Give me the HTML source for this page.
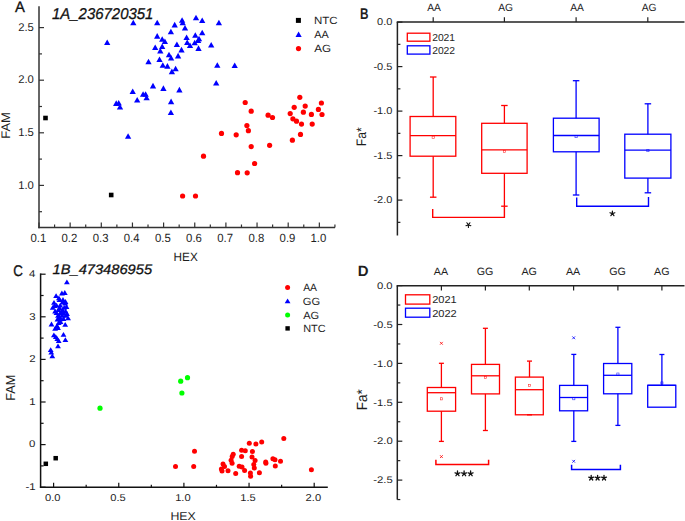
<!DOCTYPE html>
<html><head><meta charset="utf-8"><style>
html,body{margin:0;padding:0;background:#fff;}
body{width:685px;height:521px;overflow:hidden;}
svg{display:block;font-family:"Liberation Sans", sans-serif;text-rendering:geometricPrecision;}
</style></head><body>
<svg width="685" height="521" viewBox="0 0 685 521">
<rect width="685" height="521" fill="#fff"/>
<line x1="39" y1="6.3" x2="39" y2="228.2" stroke="#333" stroke-width="1.5"/>
<line x1="38.3" y1="227.5" x2="335" y2="227.5" stroke="#333" stroke-width="1.5"/>
<line x1="39" y1="227.5" x2="39" y2="222.5" stroke="#333" stroke-width="1.2"/>
<line x1="54.58" y1="227.5" x2="54.58" y2="224.5" stroke="#333" stroke-width="1.2"/>
<line x1="70.15" y1="227.5" x2="70.15" y2="222.5" stroke="#333" stroke-width="1.2"/>
<line x1="85.72" y1="227.5" x2="85.72" y2="224.5" stroke="#333" stroke-width="1.2"/>
<line x1="101.3" y1="227.5" x2="101.3" y2="222.5" stroke="#333" stroke-width="1.2"/>
<line x1="116.88" y1="227.5" x2="116.88" y2="224.5" stroke="#333" stroke-width="1.2"/>
<line x1="132.45" y1="227.5" x2="132.45" y2="222.5" stroke="#333" stroke-width="1.2"/>
<line x1="148.02" y1="227.5" x2="148.02" y2="224.5" stroke="#333" stroke-width="1.2"/>
<line x1="163.6" y1="227.5" x2="163.6" y2="222.5" stroke="#333" stroke-width="1.2"/>
<line x1="179.17" y1="227.5" x2="179.17" y2="224.5" stroke="#333" stroke-width="1.2"/>
<line x1="194.75" y1="227.5" x2="194.75" y2="222.5" stroke="#333" stroke-width="1.2"/>
<line x1="210.32" y1="227.5" x2="210.32" y2="224.5" stroke="#333" stroke-width="1.2"/>
<line x1="225.9" y1="227.5" x2="225.9" y2="222.5" stroke="#333" stroke-width="1.2"/>
<line x1="241.47" y1="227.5" x2="241.47" y2="224.5" stroke="#333" stroke-width="1.2"/>
<line x1="257.05" y1="227.5" x2="257.05" y2="222.5" stroke="#333" stroke-width="1.2"/>
<line x1="272.62" y1="227.5" x2="272.62" y2="224.5" stroke="#333" stroke-width="1.2"/>
<line x1="288.2" y1="227.5" x2="288.2" y2="222.5" stroke="#333" stroke-width="1.2"/>
<line x1="303.77" y1="227.5" x2="303.77" y2="224.5" stroke="#333" stroke-width="1.2"/>
<line x1="319.35" y1="227.5" x2="319.35" y2="222.5" stroke="#333" stroke-width="1.2"/>
<line x1="334.93" y1="227.5" x2="334.93" y2="224.5" stroke="#333" stroke-width="1.2"/>
<text transform="translate(30.4,241.6) scale(0.9593,1)" font-size="11.857" font-weight="normal" fill="#1e1e1e">0.1</text>
<text transform="translate(61.55,241.6) scale(0.9593,1)" font-size="11.857" font-weight="normal" fill="#1e1e1e">0.2</text>
<text transform="translate(92.67,241.6) scale(0.9593,1)" font-size="11.857" font-weight="normal" fill="#1e1e1e">0.3</text>
<text transform="translate(123.74,241.6) scale(0.9593,1)" font-size="11.857" font-weight="normal" fill="#1e1e1e">0.4</text>
<text transform="translate(154.95,241.6) scale(0.9593,1)" font-size="11.857" font-weight="normal" fill="#1e1e1e">0.5</text>
<text transform="translate(186.12,241.6) scale(0.9593,1)" font-size="11.857" font-weight="normal" fill="#1e1e1e">0.6</text>
<text transform="translate(217.3,241.6) scale(0.9593,1)" font-size="11.857" font-weight="normal" fill="#1e1e1e">0.7</text>
<text transform="translate(248.4,241.6) scale(0.9593,1)" font-size="11.857" font-weight="normal" fill="#1e1e1e">0.8</text>
<text transform="translate(279.57,241.6) scale(0.9593,1)" font-size="11.857" font-weight="normal" fill="#1e1e1e">0.9</text>
<text transform="translate(310.5,241.6) scale(0.9593,1)" font-size="11.857" font-weight="normal" fill="#1e1e1e">1.0</text>
<line x1="39" y1="211.7" x2="42" y2="211.7" stroke="#333" stroke-width="1.2"/>
<line x1="39" y1="185.4" x2="44" y2="185.4" stroke="#333" stroke-width="1.2"/>
<line x1="39" y1="159.1" x2="42" y2="159.1" stroke="#333" stroke-width="1.2"/>
<line x1="39" y1="132.8" x2="44" y2="132.8" stroke="#333" stroke-width="1.2"/>
<line x1="39" y1="106.5" x2="42" y2="106.5" stroke="#333" stroke-width="1.2"/>
<line x1="39" y1="80.2" x2="44" y2="80.2" stroke="#333" stroke-width="1.2"/>
<line x1="39" y1="53.9" x2="42" y2="53.9" stroke="#333" stroke-width="1.2"/>
<line x1="39" y1="27.6" x2="44" y2="27.6" stroke="#333" stroke-width="1.2"/>
<text transform="translate(18.18,188.6) scale(1.0019,1)" font-size="11.286" font-weight="normal" fill="#1e1e1e">1.0</text>
<text transform="translate(18.18,136) scale(1.0019,1)" font-size="11.286" font-weight="normal" fill="#1e1e1e">1.5</text>
<text transform="translate(18.18,83.4) scale(1.0019,1)" font-size="11.286" font-weight="normal" fill="#1e1e1e">2.0</text>
<text transform="translate(18.18,30.8) scale(1.0019,1)" font-size="11.286" font-weight="normal" fill="#1e1e1e">2.5</text>
<text transform="translate(15.03,11.7) scale(0.9758,1)" font-size="15.217" font-weight="normal" font-style="normal" fill="#111" stroke="#111" stroke-width="0.3">A</text>
<text transform="translate(52.03,18.9) scale(0.9514,1)" font-size="15.714" font-weight="normal" font-style="italic" fill="#111" stroke="#111" stroke-width="0.3">1A_236720351</text>
<text transform="translate(173.56,261) scale(0.9900,1)" font-size="11.884" font-weight="normal" font-style="normal" fill="#1e1e1e" >HEX</text>
<text transform="translate(10,138.74) rotate(-90) scale(1.0415,1)" font-size="12.464" font-weight="normal" font-style="normal" fill="#1e1e1e">FAM</text>
<rect x="295.9" y="17.9" width="5" height="5" fill="#000"/>
<text transform="translate(313.98,24) scale(1.1044,1)" font-size="10.435" font-weight="normal" font-style="normal" fill="#1e1e1e">NTC</text>
<polygon points="295.5,37 301.7,37 298.6,31.4" fill="#0000ff"/>
<text transform="translate(314.35,37.8) scale(1.0415,1)" font-size="10.435" font-weight="normal" font-style="normal" fill="#1e1e1e">AA</text>
<circle cx="298.5" cy="48.6" r="2.6" fill="#ff0000"/>
<text transform="translate(314.34,51.7) scale(1.1163,1)" font-size="10.435" font-weight="normal" font-style="normal" fill="#1e1e1e">AG</text>
<polygon points="104.05,45 110.35,45 107.2,39.4" fill="#0000ff"/>
<polygon points="124.95,138.8 131.25,138.8 128.1,133.2" fill="#0000ff"/>
<polygon points="130.15,25.3 136.45,25.3 133.3,19.7" fill="#0000ff"/>
<polygon points="154.05,25.3 160.35,25.3 157.2,19.7" fill="#0000ff"/>
<polygon points="167.75,34.3 174.05,34.3 170.9,28.7" fill="#0000ff"/>
<polygon points="154.05,38.7 160.35,38.7 157.2,33.1" fill="#0000ff"/>
<polygon points="159.05,41.8 165.35,41.8 162.2,36.2" fill="#0000ff"/>
<polygon points="161.75,44 168.05,44 164.9,38.4" fill="#0000ff"/>
<polygon points="152.05,50 158.35,50 155.2,44.4" fill="#0000ff"/>
<polygon points="159.05,49 165.35,49 162.2,43.4" fill="#0000ff"/>
<polygon points="157.15,53.4 163.45,53.4 160.3,47.8" fill="#0000ff"/>
<polygon points="165.85,57.3 172.15,57.3 169,51.7" fill="#0000ff"/>
<polygon points="167.95,60.6 174.25,60.6 171.1,55" fill="#0000ff"/>
<polygon points="156.35,62.1 162.65,62.1 159.5,56.5" fill="#0000ff"/>
<polygon points="145.35,64.3 151.65,64.3 148.5,58.7" fill="#0000ff"/>
<polygon points="159.65,67.8 165.95,67.8 162.8,62.2" fill="#0000ff"/>
<polygon points="164.25,68.7 170.55,68.7 167.4,63.1" fill="#0000ff"/>
<polygon points="171.55,27.4 177.85,27.4 174.7,21.8" fill="#0000ff"/>
<polygon points="178.95,22.8 185.25,22.8 182.1,17.2" fill="#0000ff"/>
<polygon points="179.55,25.3 185.85,25.3 182.7,19.7" fill="#0000ff"/>
<polygon points="192.85,20.3 199.15,20.3 196,14.7" fill="#0000ff"/>
<polygon points="199.05,23 205.35,23 202.2,17.4" fill="#0000ff"/>
<polygon points="215.75,25.3 222.05,25.3 218.9,19.7" fill="#0000ff"/>
<polygon points="181.85,30.6 188.15,30.6 185,25" fill="#0000ff"/>
<polygon points="199.05,35.3 205.35,35.3 202.2,29.7" fill="#0000ff"/>
<polygon points="192.15,37.8 198.45,37.8 195.3,32.2" fill="#0000ff"/>
<polygon points="183.45,40 189.75,40 186.6,34.4" fill="#0000ff"/>
<polygon points="195.85,41.3 202.15,41.3 199,35.7" fill="#0000ff"/>
<polygon points="194.95,43 201.25,43 198.1,37.4" fill="#0000ff"/>
<polygon points="173.75,47.1 180.05,47.1 176.9,41.5" fill="#0000ff"/>
<polygon points="184.05,45 190.35,45 187.2,39.4" fill="#0000ff"/>
<polygon points="186.85,48 193.15,48 190,42.4" fill="#0000ff"/>
<polygon points="191.55,45.3 197.85,45.3 194.7,39.7" fill="#0000ff"/>
<polygon points="195.35,50.9 201.65,50.9 198.5,45.3" fill="#0000ff"/>
<polygon points="208.05,47.5 214.35,47.5 211.2,41.9" fill="#0000ff"/>
<polygon points="178.35,52.4 184.65,52.4 181.5,46.8" fill="#0000ff"/>
<polygon points="174.95,58.4 181.25,58.4 178.1,52.8" fill="#0000ff"/>
<polygon points="172.45,71.3 178.75,71.3 175.6,65.7" fill="#0000ff"/>
<polygon points="214.15,67.8 220.45,67.8 217.3,62.2" fill="#0000ff"/>
<polygon points="231.55,68 237.85,68 234.7,62.4" fill="#0000ff"/>
<polygon points="168.75,74.2 175.05,74.2 171.9,68.6" fill="#0000ff"/>
<polygon points="149.85,88.4 156.15,88.4 153,82.8" fill="#0000ff"/>
<polygon points="160.25,90.9 166.55,90.9 163.4,85.3" fill="#0000ff"/>
<polygon points="129.55,94 135.85,94 132.7,88.4" fill="#0000ff"/>
<polygon points="139.95,96.8 146.25,96.8 143.1,91.2" fill="#0000ff"/>
<polygon points="142.45,96.8 148.75,96.8 145.6,91.2" fill="#0000ff"/>
<polygon points="143.45,100.3 149.75,100.3 146.6,94.7" fill="#0000ff"/>
<polygon points="134.05,102.5 140.35,102.5 137.2,96.9" fill="#0000ff"/>
<polygon points="113.05,105.9 119.35,105.9 116.2,100.3" fill="#0000ff"/>
<polygon points="115.55,105.5 121.85,105.5 118.7,99.9" fill="#0000ff"/>
<polygon points="116.85,109.6 123.15,109.6 120,104" fill="#0000ff"/>
<polygon points="167.95,104.2 174.25,104.2 171.1,98.6" fill="#0000ff"/>
<polygon points="167.75,115 174.05,115 170.9,109.4" fill="#0000ff"/>
<polygon points="213.05,85.5 219.35,85.5 216.2,79.9" fill="#0000ff"/>
<polygon points="176.25,92.4 182.55,92.4 179.4,86.8" fill="#0000ff"/>
<circle cx="182.6" cy="196" r="2.6" fill="#ff0000"/>
<circle cx="195.5" cy="196" r="2.6" fill="#ff0000"/>
<circle cx="203.5" cy="156.2" r="2.6" fill="#ff0000"/>
<circle cx="221.5" cy="133.4" r="2.6" fill="#ff0000"/>
<circle cx="236.2" cy="134.8" r="2.6" fill="#ff0000"/>
<circle cx="237.5" cy="172.7" r="2.6" fill="#ff0000"/>
<circle cx="247.2" cy="172.8" r="2.6" fill="#ff0000"/>
<circle cx="254.6" cy="163.5" r="2.6" fill="#ff0000"/>
<circle cx="245.2" cy="102.5" r="2.6" fill="#ff0000"/>
<circle cx="251.2" cy="111.2" r="2.6" fill="#ff0000"/>
<circle cx="246.9" cy="125.6" r="2.6" fill="#ff0000"/>
<circle cx="248.4" cy="130.7" r="2.6" fill="#ff0000"/>
<circle cx="251.2" cy="146.6" r="2.6" fill="#ff0000"/>
<circle cx="268.1" cy="115.2" r="2.6" fill="#ff0000"/>
<circle cx="272.5" cy="117.5" r="2.6" fill="#ff0000"/>
<circle cx="269.6" cy="145.3" r="2.6" fill="#ff0000"/>
<circle cx="299.8" cy="97.3" r="2.6" fill="#ff0000"/>
<circle cx="294.2" cy="107.3" r="2.6" fill="#ff0000"/>
<circle cx="305.2" cy="106.1" r="2.6" fill="#ff0000"/>
<circle cx="290.2" cy="113.6" r="2.6" fill="#ff0000"/>
<circle cx="303.4" cy="112.2" r="2.6" fill="#ff0000"/>
<circle cx="311.4" cy="114.4" r="2.6" fill="#ff0000"/>
<circle cx="321.4" cy="103" r="2.6" fill="#ff0000"/>
<circle cx="318.4" cy="109.4" r="2.6" fill="#ff0000"/>
<circle cx="322" cy="114.5" r="2.6" fill="#ff0000"/>
<circle cx="292.9" cy="118.8" r="2.6" fill="#ff0000"/>
<circle cx="296.5" cy="121.2" r="2.6" fill="#ff0000"/>
<circle cx="301.5" cy="124.1" r="2.6" fill="#ff0000"/>
<circle cx="312.2" cy="124.1" r="2.6" fill="#ff0000"/>
<circle cx="300.5" cy="134.4" r="2.6" fill="#ff0000"/>
<circle cx="292.4" cy="140.2" r="2.6" fill="#ff0000"/>
<rect x="43.2" y="115.7" width="4.6" height="4.6" fill="#000"/>
<rect x="108.9" y="192.7" width="4.6" height="4.6" fill="#000"/>
<line x1="397.4" y1="22" x2="397.4" y2="235.5" stroke="#222" stroke-width="1.5"/>
<line x1="396.7" y1="22" x2="684.5" y2="22" stroke="#222" stroke-width="1.5"/>
<line x1="397.4" y1="22.1" x2="402.4" y2="22.1" stroke="#222" stroke-width="1.2"/>
<line x1="397.4" y1="44.35" x2="400.4" y2="44.35" stroke="#222" stroke-width="1.2"/>
<line x1="397.4" y1="66.6" x2="402.4" y2="66.6" stroke="#222" stroke-width="1.2"/>
<line x1="397.4" y1="88.85" x2="400.4" y2="88.85" stroke="#222" stroke-width="1.2"/>
<line x1="397.4" y1="111.1" x2="402.4" y2="111.1" stroke="#222" stroke-width="1.2"/>
<line x1="397.4" y1="133.35" x2="400.4" y2="133.35" stroke="#222" stroke-width="1.2"/>
<line x1="397.4" y1="155.6" x2="402.4" y2="155.6" stroke="#222" stroke-width="1.2"/>
<line x1="397.4" y1="177.85" x2="400.4" y2="177.85" stroke="#222" stroke-width="1.2"/>
<line x1="397.4" y1="200.1" x2="402.4" y2="200.1" stroke="#222" stroke-width="1.2"/>
<line x1="397.4" y1="222.35" x2="400.4" y2="222.35" stroke="#222" stroke-width="1.2"/>
<text transform="translate(377.06,25.15) scale(1.0992,1)" font-size="10.000" font-weight="normal" fill="#1e1e1e">0.0</text>
<text transform="translate(373.43,69.65) scale(1.0992,1)" font-size="10.000" font-weight="normal" fill="#1e1e1e">-0.5</text>
<text transform="translate(373.43,114.15) scale(1.0992,1)" font-size="10.000" font-weight="normal" fill="#1e1e1e">-1.0</text>
<text transform="translate(373.43,158.65) scale(1.0992,1)" font-size="10.000" font-weight="normal" fill="#1e1e1e">-1.5</text>
<text transform="translate(373.43,203.15) scale(1.0992,1)" font-size="10.000" font-weight="normal" fill="#1e1e1e">-2.0</text>
<line x1="433.2" y1="22" x2="433.2" y2="17.3" stroke="#222" stroke-width="1.2"/>
<text transform="translate(427.25,10.7) scale(0.9836,1)" font-size="10.435" font-weight="normal" fill="#1e1e1e">AA</text>
<line x1="504.4" y1="22" x2="504.4" y2="17.3" stroke="#222" stroke-width="1.2"/>
<text transform="translate(498.24,10.7) scale(0.9836,1)" font-size="10.435" font-weight="normal" fill="#1e1e1e">AG</text>
<line x1="576.1" y1="22" x2="576.1" y2="17.3" stroke="#222" stroke-width="1.2"/>
<text transform="translate(570.15,10.7) scale(0.9836,1)" font-size="10.435" font-weight="normal" fill="#1e1e1e">AA</text>
<line x1="647.8" y1="22" x2="647.8" y2="17.3" stroke="#222" stroke-width="1.2"/>
<text transform="translate(641.64,10.7) scale(0.9836,1)" font-size="10.435" font-weight="normal" fill="#1e1e1e">AG</text>
<text transform="translate(360.03,18.7) scale(0.7541,1)" font-size="15.652" font-weight="bold" font-style="normal" fill="#1e1e1e" >B</text>
<text transform="translate(366.1,146.27) rotate(-90) scale(0.8836,1)" font-size="13.768" font-weight="normal" font-style="normal" fill="#1e1e1e">Fa*</text>
<rect x="407.3" y="33.2" width="22.6" height="8" fill="none" stroke="#ff0000" stroke-width="1.3"/>
<rect x="407.3" y="45.8" width="22.6" height="8.3" fill="none" stroke="#0000ff" stroke-width="1.3"/>
<text transform="translate(432.18,40.7) scale(1.0161,1)" font-size="10.143" font-weight="normal" font-style="normal" fill="#1e1e1e" >2021</text>
<text transform="translate(432.18,53.6) scale(1.0161,1)" font-size="10.143" font-weight="normal" fill="#1e1e1e">2022</text>
<rect x="410.1" y="116.5" width="45.7" height="39.7" fill="none" stroke="#ff0000" stroke-width="1.3"/>
<line x1="410.1" y1="135.7" x2="455.8" y2="135.7" stroke="#ff0000" stroke-width="1.3"/>
<line x1="433.2" y1="77" x2="433.2" y2="116.5" stroke="#ff0000" stroke-width="1.3"/>
<line x1="429.95" y1="77" x2="436.45" y2="77" stroke="#ff0000" stroke-width="1.3"/>
<line x1="433.2" y1="156.2" x2="433.2" y2="197.2" stroke="#ff0000" stroke-width="1.3"/>
<line x1="429.95" y1="197.2" x2="436.45" y2="197.2" stroke="#ff0000" stroke-width="1.3"/>
<rect x="432.1" y="136.1" width="2.2" height="2.2" fill="none" stroke="#ff0000" stroke-width="0.6" opacity="0.8"/>
<rect x="481.7" y="123.3" width="45.4" height="50" fill="none" stroke="#ff0000" stroke-width="1.3"/>
<line x1="481.7" y1="149.8" x2="527.1" y2="149.8" stroke="#ff0000" stroke-width="1.3"/>
<line x1="504.4" y1="105.5" x2="504.4" y2="123.3" stroke="#ff0000" stroke-width="1.3"/>
<line x1="501.15" y1="105.5" x2="507.65" y2="105.5" stroke="#ff0000" stroke-width="1.3"/>
<line x1="504.4" y1="173.3" x2="504.4" y2="206.2" stroke="#ff0000" stroke-width="1.3"/>
<line x1="501.15" y1="206.2" x2="507.65" y2="206.2" stroke="#ff0000" stroke-width="1.3"/>
<rect x="503.3" y="150.3" width="2.2" height="2.2" fill="none" stroke="#ff0000" stroke-width="0.6" opacity="0.8"/>
<rect x="553.4" y="118.2" width="45.7" height="33.6" fill="none" stroke="#0000ff" stroke-width="1.3"/>
<line x1="553.4" y1="135.5" x2="599.1" y2="135.5" stroke="#0000ff" stroke-width="1.3"/>
<line x1="576.1" y1="80.7" x2="576.1" y2="118.2" stroke="#0000ff" stroke-width="1.3"/>
<line x1="572.85" y1="80.7" x2="579.35" y2="80.7" stroke="#0000ff" stroke-width="1.3"/>
<line x1="576.1" y1="151.8" x2="576.1" y2="195" stroke="#0000ff" stroke-width="1.3"/>
<line x1="572.85" y1="195" x2="579.35" y2="195" stroke="#0000ff" stroke-width="1.3"/>
<rect x="575" y="135.5" width="2.2" height="2.2" fill="none" stroke="#0000ff" stroke-width="0.6" opacity="0.8"/>
<rect x="624.8" y="134.2" width="46.1" height="43.9" fill="none" stroke="#0000ff" stroke-width="1.3"/>
<line x1="624.8" y1="150.1" x2="670.9" y2="150.1" stroke="#0000ff" stroke-width="1.3"/>
<line x1="647.9" y1="103.8" x2="647.9" y2="134.2" stroke="#0000ff" stroke-width="1.3"/>
<line x1="644.65" y1="103.8" x2="651.15" y2="103.8" stroke="#0000ff" stroke-width="1.3"/>
<line x1="647.9" y1="178.1" x2="647.9" y2="192.8" stroke="#0000ff" stroke-width="1.3"/>
<line x1="644.65" y1="192.8" x2="651.15" y2="192.8" stroke="#0000ff" stroke-width="1.3"/>
<rect x="646.8" y="149.5" width="2.2" height="2.2" fill="none" stroke="#0000ff" stroke-width="0.6" opacity="0.8"/>
<polyline points="432.7,209 432.7,217.4 504.4,217.4 504.4,206.2" fill="none" stroke="#ff0000" stroke-width="1.4"/>
<polyline points="576.7,197.4 576.7,206.2 648.5,206.2 648.5,197" fill="none" stroke="#0000ff" stroke-width="1.4"/>
<path d="M468.4,224.9L468.4,227.5M468.4,224.9L465.93,225.7M468.4,224.9L466.87,222.8M468.4,224.9L469.93,222.8M468.4,224.9L470.87,225.7" stroke="#111" stroke-width="1.1" stroke-linecap="round"/>
<path d="M612.4,213.6L612.4,211M612.4,213.6L614.87,212.8M612.4,213.6L613.93,215.7M612.4,213.6L610.87,215.7M612.4,213.6L609.93,212.8" stroke="#111" stroke-width="1.2" stroke-linecap="round"/>
<line x1="40.6" y1="273.4" x2="40.6" y2="487.9" stroke="#111" stroke-width="1.5"/>
<line x1="39.9" y1="487.3" x2="327.8" y2="487.3" stroke="#111" stroke-width="1.5"/>
<line x1="40.6" y1="487.2" x2="45.6" y2="487.2" stroke="#111" stroke-width="1.2"/>
<line x1="40.6" y1="465.9" x2="43.6" y2="465.9" stroke="#111" stroke-width="1.2"/>
<line x1="40.6" y1="444.6" x2="45.6" y2="444.6" stroke="#111" stroke-width="1.2"/>
<line x1="40.6" y1="423.3" x2="43.6" y2="423.3" stroke="#111" stroke-width="1.2"/>
<line x1="40.6" y1="402" x2="45.6" y2="402" stroke="#111" stroke-width="1.2"/>
<line x1="40.6" y1="380.7" x2="43.6" y2="380.7" stroke="#111" stroke-width="1.2"/>
<line x1="40.6" y1="359.4" x2="45.6" y2="359.4" stroke="#111" stroke-width="1.2"/>
<line x1="40.6" y1="338.1" x2="43.6" y2="338.1" stroke="#111" stroke-width="1.2"/>
<line x1="40.6" y1="316.8" x2="45.6" y2="316.8" stroke="#111" stroke-width="1.2"/>
<line x1="40.6" y1="295.5" x2="43.6" y2="295.5" stroke="#111" stroke-width="1.2"/>
<line x1="40.6" y1="274.2" x2="45.6" y2="274.2" stroke="#111" stroke-width="1.2"/>
<text transform="translate(25.4,489.95) scale(1.1594,1)" font-size="9.857" font-weight="normal" fill="#1e1e1e">-1</text>
<text transform="translate(29.11,447.35) scale(1.1594,1)" font-size="9.857" font-weight="normal" fill="#1e1e1e">0</text>
<text transform="translate(29.23,404.75) scale(1.1594,1)" font-size="9.857" font-weight="normal" fill="#1e1e1e">1</text>
<text transform="translate(29.23,362.15) scale(1.1594,1)" font-size="9.857" font-weight="normal" fill="#1e1e1e">2</text>
<text transform="translate(29.17,319.55) scale(1.1594,1)" font-size="9.857" font-weight="normal" fill="#1e1e1e">3</text>
<text transform="translate(29,276.95) scale(1.1594,1)" font-size="9.857" font-weight="normal" fill="#1e1e1e">4</text>
<line x1="53.6" y1="487.3" x2="53.6" y2="482.8" stroke="#111" stroke-width="1.2"/>
<line x1="86.18" y1="487.3" x2="86.18" y2="484.8" stroke="#111" stroke-width="1.2"/>
<line x1="118.75" y1="487.3" x2="118.75" y2="482.8" stroke="#111" stroke-width="1.2"/>
<line x1="151.33" y1="487.3" x2="151.33" y2="484.8" stroke="#111" stroke-width="1.2"/>
<line x1="183.9" y1="487.3" x2="183.9" y2="482.8" stroke="#111" stroke-width="1.2"/>
<line x1="216.47" y1="487.3" x2="216.47" y2="484.8" stroke="#111" stroke-width="1.2"/>
<line x1="249.05" y1="487.3" x2="249.05" y2="482.8" stroke="#111" stroke-width="1.2"/>
<line x1="281.63" y1="487.3" x2="281.63" y2="484.8" stroke="#111" stroke-width="1.2"/>
<line x1="314.2" y1="487.3" x2="314.2" y2="482.8" stroke="#111" stroke-width="1.2"/>
<text transform="translate(45.05,500.8) scale(1.1145,1)" font-size="10.000" font-weight="normal" fill="#1e1e1e">0.0</text>
<text transform="translate(110.2,500.8) scale(1.1145,1)" font-size="10.000" font-weight="normal" fill="#1e1e1e">0.5</text>
<text transform="translate(175.16,500.8) scale(1.1145,1)" font-size="10.000" font-weight="normal" fill="#1e1e1e">1.0</text>
<text transform="translate(240.31,500.8) scale(1.1145,1)" font-size="10.000" font-weight="normal" fill="#1e1e1e">1.5</text>
<text transform="translate(305.6,500.8) scale(1.1145,1)" font-size="10.000" font-weight="normal" fill="#1e1e1e">2.0</text>
<text transform="translate(13.23,276) scale(0.8642,1)" font-size="15.429" font-weight="normal" font-style="normal" fill="#111" stroke="#111" stroke-width="0.35">C</text>
<text transform="translate(52.53,274) scale(1.0703,1)" font-size="13.714" font-weight="normal" font-style="italic" fill="#111" stroke="#111" stroke-width="0.3">1B_473486955</text>
<text transform="translate(170.41,519.5) scale(1.0767,1)" font-size="11.449" font-weight="normal" font-style="normal" fill="#1e1e1e" >HEX</text>
<text transform="translate(15.2,400.81) rotate(-90) scale(0.9710,1)" font-size="13.043" font-weight="normal" font-style="normal" fill="#1e1e1e">FAM</text>
<circle cx="287.6" cy="287.5" r="2.5" fill="#ff0000"/>
<text transform="translate(303.15,291) scale(0.9981,1)" font-size="10.435" font-weight="normal" font-style="normal" fill="#1e1e1e">AA</text>
<polygon points="284.7,303.3 290.5,303.3 287.6,298.5" fill="#0000ff"/>
<text transform="translate(302.84,304.5) scale(1.0685,1)" font-size="10.435" font-weight="normal" font-style="normal" fill="#1e1e1e">GG</text>
<circle cx="287.6" cy="315" r="2.5" fill="#00ff00"/>
<text transform="translate(303.14,318.5) scale(1.0601,1)" font-size="10.435" font-weight="normal" font-style="normal" fill="#1e1e1e">AG</text>
<rect x="285.4" y="326.2" width="4.4" height="4.4" fill="#000"/>
<text transform="translate(303.22,331.8) scale(1.0500,1)" font-size="10.435" font-weight="normal" font-style="normal" fill="#1e1e1e">NTC</text>
<polygon points="64,284.3 69.8,284.3 66.9,279.5" fill="#0000ff"/>
<polygon points="59,295.4 64.8,295.4 61.9,290.6" fill="#0000ff"/>
<polygon points="61.9,294.9 67.7,294.9 64.8,290.1" fill="#0000ff"/>
<polygon points="53.2,298 59,298 56.1,293.2" fill="#0000ff"/>
<polygon points="51.1,304.7 56.9,304.7 54,299.9" fill="#0000ff"/>
<polygon points="49.8,309.7 55.6,309.7 52.7,304.9" fill="#0000ff"/>
<polygon points="56.6,301.9 62.4,301.9 59.5,297.1" fill="#0000ff"/>
<polygon points="60.1,301.9 65.9,301.9 63,297.1" fill="#0000ff"/>
<polygon points="62.3,305.4 68.1,305.4 65.2,300.6" fill="#0000ff"/>
<polygon points="53.7,307.6 59.5,307.6 56.6,302.8" fill="#0000ff"/>
<polygon points="57.3,307.6 63.1,307.6 60.2,302.8" fill="#0000ff"/>
<polygon points="61.3,309.8 67.1,309.8 64.2,305" fill="#0000ff"/>
<polygon points="52.2,313.4 58,313.4 55.1,308.6" fill="#0000ff"/>
<polygon points="55.8,311.9 61.6,311.9 58.7,307.1" fill="#0000ff"/>
<polygon points="58.7,314.8 64.5,314.8 61.6,310" fill="#0000ff"/>
<polygon points="62.7,313.4 68.5,313.4 65.6,308.6" fill="#0000ff"/>
<polygon points="55.1,317.7 60.9,317.7 58,312.9" fill="#0000ff"/>
<polygon points="59.4,317.7 65.2,317.7 62.3,312.9" fill="#0000ff"/>
<polygon points="63,317.7 68.8,317.7 65.9,312.9" fill="#0000ff"/>
<polygon points="65.2,320.2 71,320.2 68.1,315.4" fill="#0000ff"/>
<polygon points="57.3,321.3 63.1,321.3 60.2,316.5" fill="#0000ff"/>
<polygon points="48.6,326.4 54.4,326.4 51.5,321.6" fill="#0000ff"/>
<polygon points="55.8,324.9 61.6,324.9 58.7,320.1" fill="#0000ff"/>
<polygon points="62.3,326.8 68.1,326.8 65.2,322" fill="#0000ff"/>
<polygon points="52.2,330.7 58,330.7 55.1,325.9" fill="#0000ff"/>
<polygon points="55.1,330 60.9,330 58,325.2" fill="#0000ff"/>
<polygon points="51,337.2 56.8,337.2 53.9,332.4" fill="#0000ff"/>
<polygon points="52.9,339.1 58.7,339.1 55.8,334.3" fill="#0000ff"/>
<polygon points="54.4,341 60.2,341 57.3,336.2" fill="#0000ff"/>
<polygon points="55.8,343 61.6,343 58.7,338.2" fill="#0000ff"/>
<polygon points="60.6,336.7 66.4,336.7 63.5,331.9" fill="#0000ff"/>
<polygon points="62.5,342 68.3,342 65.4,337.2" fill="#0000ff"/>
<polygon points="55.1,348.2 60.9,348.2 58,343.4" fill="#0000ff"/>
<polygon points="47.8,352.1 53.6,352.1 50.7,347.3" fill="#0000ff"/>
<polygon points="48.4,354.5 54.2,354.5 51.3,349.7" fill="#0000ff"/>
<polygon points="49.4,358.3 55.2,358.3 52.3,353.5" fill="#0000ff"/>
<polygon points="56,300.3 61.8,300.3 58.9,295.5" fill="#0000ff"/>
<polygon points="59.6,304.4 65.4,304.4 62.5,299.6" fill="#0000ff"/>
<polygon points="62.6,303.9 68.4,303.9 65.5,299.1" fill="#0000ff"/>
<polygon points="56.6,309.9 62.4,309.9 59.5,305.1" fill="#0000ff"/>
<polygon points="59.6,311.9 65.4,311.9 62.5,307.1" fill="#0000ff"/>
<polygon points="53.6,314.9 59.4,314.9 56.5,310.1" fill="#0000ff"/>
<polygon points="57.1,315.6 62.9,315.6 60,310.8" fill="#0000ff"/>
<polygon points="60.7,315.4 66.5,315.4 63.6,310.6" fill="#0000ff"/>
<polygon points="56.6,318.9 62.4,318.9 59.5,314.1" fill="#0000ff"/>
<polygon points="60.6,320.9 66.4,320.9 63.5,316.1" fill="#0000ff"/>
<polygon points="54.6,321.4 60.4,321.4 57.5,316.6" fill="#0000ff"/>
<polygon points="57.6,323.9 63.4,323.9 60.5,319.1" fill="#0000ff"/>
<polygon points="54.1,327.9 59.9,327.9 57,323.1" fill="#0000ff"/>
<polygon points="63.6,308.9 69.4,308.9 66.5,304.1" fill="#0000ff"/>
<polygon points="51.6,307.9 57.4,307.9 54.5,303.1" fill="#0000ff"/>
<polygon points="64.1,315.9 69.9,315.9 67,311.1" fill="#0000ff"/>
<circle cx="175.5" cy="466.6" r="2.5" fill="#ff0000"/>
<circle cx="193.7" cy="466.4" r="2.5" fill="#ff0000"/>
<circle cx="194.5" cy="451.3" r="2.5" fill="#ff0000"/>
<circle cx="233.2" cy="454.2" r="2.5" fill="#ff0000"/>
<circle cx="232.2" cy="456.5" r="2.5" fill="#ff0000"/>
<circle cx="231.1" cy="460.2" r="2.5" fill="#ff0000"/>
<circle cx="232.1" cy="463.2" r="2.5" fill="#ff0000"/>
<circle cx="223" cy="464.1" r="2.5" fill="#ff0000"/>
<circle cx="224.5" cy="466.6" r="2.5" fill="#ff0000"/>
<circle cx="221.4" cy="469.1" r="2.5" fill="#ff0000"/>
<circle cx="222" cy="471" r="2.5" fill="#ff0000"/>
<circle cx="228" cy="470.7" r="2.5" fill="#ff0000"/>
<circle cx="235.7" cy="473.6" r="2.5" fill="#ff0000"/>
<circle cx="241.6" cy="450.2" r="2.5" fill="#ff0000"/>
<circle cx="241.6" cy="456.4" r="2.5" fill="#ff0000"/>
<circle cx="239.2" cy="466.2" r="2.5" fill="#ff0000"/>
<circle cx="242" cy="467" r="2.5" fill="#ff0000"/>
<circle cx="244.6" cy="470.5" r="2.5" fill="#ff0000"/>
<circle cx="249.3" cy="443.2" r="2.5" fill="#ff0000"/>
<circle cx="255.9" cy="444" r="2.5" fill="#ff0000"/>
<circle cx="261.7" cy="441.9" r="2.5" fill="#ff0000"/>
<circle cx="245.3" cy="450.7" r="2.5" fill="#ff0000"/>
<circle cx="252.4" cy="451.4" r="2.5" fill="#ff0000"/>
<circle cx="252" cy="456.9" r="2.5" fill="#ff0000"/>
<circle cx="255.1" cy="460.6" r="2.5" fill="#ff0000"/>
<circle cx="265.7" cy="462" r="2.5" fill="#ff0000"/>
<circle cx="265.9" cy="463.2" r="2.5" fill="#ff0000"/>
<circle cx="272.9" cy="458.8" r="2.5" fill="#ff0000"/>
<circle cx="275" cy="459.8" r="2.5" fill="#ff0000"/>
<circle cx="280.5" cy="461.2" r="2.5" fill="#ff0000"/>
<circle cx="275.3" cy="466" r="2.5" fill="#ff0000"/>
<circle cx="253.8" cy="464.6" r="2.5" fill="#ff0000"/>
<circle cx="254.3" cy="468.1" r="2.5" fill="#ff0000"/>
<circle cx="250.4" cy="473" r="2.5" fill="#ff0000"/>
<circle cx="250.6" cy="476.2" r="2.5" fill="#ff0000"/>
<circle cx="259.4" cy="472.8" r="2.5" fill="#ff0000"/>
<circle cx="283.8" cy="438.5" r="2.5" fill="#ff0000"/>
<circle cx="311.4" cy="469.8" r="2.5" fill="#ff0000"/>
<circle cx="100" cy="408.2" r="2.6" fill="#00ff00"/>
<circle cx="180.7" cy="381.2" r="2.6" fill="#00ff00"/>
<circle cx="187.5" cy="377.7" r="2.6" fill="#00ff00"/>
<circle cx="181.9" cy="393" r="2.6" fill="#00ff00"/>
<rect x="43.55" y="461.55" width="4.5" height="4.5" fill="#000"/>
<rect x="53.45" y="455.95" width="4.5" height="4.5" fill="#000"/>
<line x1="397.3" y1="285.7" x2="397.3" y2="499.6" stroke="#222" stroke-width="1.5"/>
<line x1="396.6" y1="285.7" x2="684.5" y2="285.7" stroke="#222" stroke-width="1.5"/>
<line x1="397.3" y1="285.6" x2="402.3" y2="285.6" stroke="#222" stroke-width="1.2"/>
<line x1="397.3" y1="305.05" x2="400.3" y2="305.05" stroke="#222" stroke-width="1.2"/>
<line x1="397.3" y1="324.5" x2="402.3" y2="324.5" stroke="#222" stroke-width="1.2"/>
<line x1="397.3" y1="343.95" x2="400.3" y2="343.95" stroke="#222" stroke-width="1.2"/>
<line x1="397.3" y1="363.4" x2="402.3" y2="363.4" stroke="#222" stroke-width="1.2"/>
<line x1="397.3" y1="382.85" x2="400.3" y2="382.85" stroke="#222" stroke-width="1.2"/>
<line x1="397.3" y1="402.3" x2="402.3" y2="402.3" stroke="#222" stroke-width="1.2"/>
<line x1="397.3" y1="421.75" x2="400.3" y2="421.75" stroke="#222" stroke-width="1.2"/>
<line x1="397.3" y1="441.2" x2="402.3" y2="441.2" stroke="#222" stroke-width="1.2"/>
<line x1="397.3" y1="460.65" x2="400.3" y2="460.65" stroke="#222" stroke-width="1.2"/>
<line x1="397.3" y1="480.1" x2="402.3" y2="480.1" stroke="#222" stroke-width="1.2"/>
<line x1="397.3" y1="499.55" x2="400.3" y2="499.55" stroke="#222" stroke-width="1.2"/>
<text transform="translate(376.95,288.8) scale(1.1804,1)" font-size="9.571" font-weight="normal" fill="#1e1e1e">0.0</text>
<text transform="translate(373.22,327.7) scale(1.1804,1)" font-size="9.571" font-weight="normal" fill="#1e1e1e">-0.5</text>
<text transform="translate(373.22,366.6) scale(1.1804,1)" font-size="9.571" font-weight="normal" fill="#1e1e1e">-1.0</text>
<text transform="translate(373.22,405.5) scale(1.1804,1)" font-size="9.571" font-weight="normal" fill="#1e1e1e">-1.5</text>
<text transform="translate(373.22,444.4) scale(1.1804,1)" font-size="9.571" font-weight="normal" fill="#1e1e1e">-2.0</text>
<text transform="translate(373.22,483.3) scale(1.1804,1)" font-size="9.571" font-weight="normal" fill="#1e1e1e">-2.5</text>
<line x1="441.4" y1="285.7" x2="441.4" y2="290.4" stroke="#222" stroke-width="1.2"/>
<text transform="translate(433.75,274.6) scale(1.0130,1)" font-size="10.580" font-weight="normal" fill="#1e1e1e">AA</text>
<line x1="485.4" y1="285.7" x2="485.4" y2="290.4" stroke="#222" stroke-width="1.2"/>
<text transform="translate(476.67,274.6) scale(1.0130,1)" font-size="10.580" font-weight="normal" fill="#1e1e1e">GG</text>
<line x1="529.3" y1="285.7" x2="529.3" y2="290.4" stroke="#222" stroke-width="1.2"/>
<text transform="translate(521.43,274.6) scale(1.0130,1)" font-size="10.580" font-weight="normal" fill="#1e1e1e">AG</text>
<line x1="573.6" y1="285.7" x2="573.6" y2="290.4" stroke="#222" stroke-width="1.2"/>
<text transform="translate(565.95,274.6) scale(1.0130,1)" font-size="10.580" font-weight="normal" fill="#1e1e1e">AA</text>
<line x1="617.9" y1="285.7" x2="617.9" y2="290.4" stroke="#222" stroke-width="1.2"/>
<text transform="translate(609.17,274.6) scale(1.0130,1)" font-size="10.580" font-weight="normal" fill="#1e1e1e">GG</text>
<line x1="661.9" y1="285.7" x2="661.9" y2="290.4" stroke="#222" stroke-width="1.2"/>
<text transform="translate(654.03,274.6) scale(1.0130,1)" font-size="10.580" font-weight="normal" fill="#1e1e1e">AG</text>
<text transform="translate(357.73,275.8) scale(1.0120,1)" font-size="14.783" font-weight="bold" font-style="normal" fill="#1e1e1e" >D</text>
<text transform="translate(367,410.28) rotate(-90) scale(0.9159,1)" font-size="14.783" font-weight="normal" font-style="normal" fill="#1e1e1e">Fa*</text>
<rect x="405.5" y="294.8" width="24.3" height="9.3" fill="none" stroke="#ff0000" stroke-width="1.3"/>
<rect x="405.5" y="308.2" width="24.3" height="9" fill="none" stroke="#0000ff" stroke-width="1.3"/>
<text transform="translate(432.15,303.2) scale(1.0903,1)" font-size="10.143" font-weight="normal" font-style="normal" fill="#1e1e1e" >2021</text>
<text transform="translate(432.15,316.6) scale(1.0903,1)" font-size="10.143" font-weight="normal" fill="#1e1e1e">2022</text>
<rect x="427.3" y="387.5" width="28.3" height="23.7" fill="none" stroke="#ff0000" stroke-width="1.3"/>
<line x1="427.3" y1="392.7" x2="455.6" y2="392.7" stroke="#ff0000" stroke-width="1.3"/>
<line x1="441.4" y1="363.3" x2="441.4" y2="387.5" stroke="#ff0000" stroke-width="1.3"/>
<line x1="438.9" y1="363.3" x2="443.9" y2="363.3" stroke="#ff0000" stroke-width="1.3"/>
<line x1="441.4" y1="411.2" x2="441.4" y2="441.4" stroke="#ff0000" stroke-width="1.3"/>
<line x1="438.9" y1="441.4" x2="443.9" y2="441.4" stroke="#ff0000" stroke-width="1.3"/>
<rect x="440.3" y="397.7" width="2.2" height="2.2" fill="none" stroke="#ff0000" stroke-width="0.6" opacity="0.8"/>
<rect x="471.5" y="364.4" width="28" height="29.5" fill="none" stroke="#ff0000" stroke-width="1.3"/>
<line x1="471.5" y1="375.8" x2="499.5" y2="375.8" stroke="#ff0000" stroke-width="1.3"/>
<line x1="485.4" y1="328.3" x2="485.4" y2="364.4" stroke="#ff0000" stroke-width="1.3"/>
<line x1="482.9" y1="328.3" x2="487.9" y2="328.3" stroke="#ff0000" stroke-width="1.3"/>
<line x1="485.4" y1="393.9" x2="485.4" y2="430.5" stroke="#ff0000" stroke-width="1.3"/>
<line x1="482.9" y1="430.5" x2="487.9" y2="430.5" stroke="#ff0000" stroke-width="1.3"/>
<rect x="484.3" y="376.4" width="2.2" height="2.2" fill="none" stroke="#ff0000" stroke-width="0.6" opacity="0.8"/>
<rect x="515.4" y="377.1" width="27.9" height="37.7" fill="none" stroke="#ff0000" stroke-width="1.3"/>
<line x1="515.4" y1="389.7" x2="543.3" y2="389.7" stroke="#ff0000" stroke-width="1.3"/>
<line x1="529.5" y1="361.1" x2="529.5" y2="377.1" stroke="#ff0000" stroke-width="1.3"/>
<line x1="527" y1="361.1" x2="532" y2="361.1" stroke="#ff0000" stroke-width="1.3"/>
<rect x="528.4" y="384.3" width="2.2" height="2.2" fill="none" stroke="#ff0000" stroke-width="0.6" opacity="0.8"/>
<line x1="527" y1="414.8" x2="532" y2="414.8" stroke="#ff0000" stroke-width="1.3"/>
<rect x="559.6" y="385.4" width="28" height="25.4" fill="none" stroke="#0000ff" stroke-width="1.3"/>
<line x1="559.6" y1="397.5" x2="587.6" y2="397.5" stroke="#0000ff" stroke-width="1.3"/>
<line x1="573.8" y1="354.4" x2="573.8" y2="385.4" stroke="#0000ff" stroke-width="1.3"/>
<line x1="571.3" y1="354.4" x2="576.3" y2="354.4" stroke="#0000ff" stroke-width="1.3"/>
<line x1="573.8" y1="410.8" x2="573.8" y2="441.4" stroke="#0000ff" stroke-width="1.3"/>
<line x1="571.3" y1="441.4" x2="576.3" y2="441.4" stroke="#0000ff" stroke-width="1.3"/>
<rect x="572.7" y="397.6" width="2.2" height="2.2" fill="none" stroke="#0000ff" stroke-width="0.6" opacity="0.8"/>
<rect x="603.6" y="363.5" width="28.2" height="30.3" fill="none" stroke="#0000ff" stroke-width="1.3"/>
<line x1="603.6" y1="375.3" x2="631.8" y2="375.3" stroke="#0000ff" stroke-width="1.3"/>
<line x1="617.9" y1="327.3" x2="617.9" y2="363.5" stroke="#0000ff" stroke-width="1.3"/>
<line x1="615.4" y1="327.3" x2="620.4" y2="327.3" stroke="#0000ff" stroke-width="1.3"/>
<line x1="617.9" y1="393.8" x2="617.9" y2="425.4" stroke="#0000ff" stroke-width="1.3"/>
<line x1="615.4" y1="425.4" x2="620.4" y2="425.4" stroke="#0000ff" stroke-width="1.3"/>
<rect x="616.8" y="373" width="2.2" height="2.2" fill="none" stroke="#0000ff" stroke-width="0.6" opacity="0.8"/>
<rect x="647.7" y="385.3" width="28.1" height="21.9" fill="none" stroke="#0000ff" stroke-width="1.3"/>
<line x1="647.7" y1="385.3" x2="675.8" y2="385.3" stroke="#0000ff" stroke-width="1.3"/>
<line x1="661.9" y1="354.5" x2="661.9" y2="385.3" stroke="#0000ff" stroke-width="1.3"/>
<line x1="659.4" y1="354.5" x2="664.4" y2="354.5" stroke="#0000ff" stroke-width="1.3"/>
<rect x="660.8" y="381.9" width="2.2" height="2.2" fill="none" stroke="#0000ff" stroke-width="0.6" opacity="0.8"/>
<path d="M440,341.9L442.8,344.7M440,344.7L442.8,341.9" stroke="#ff0000" stroke-width="0.8"/>
<path d="M440,455.2L442.8,458M440,458L442.8,455.2" stroke="#ff0000" stroke-width="0.8"/>
<path d="M572.3,336.4L575.1,339.2M572.3,339.2L575.1,336.4" stroke="#0000ff" stroke-width="0.8"/>
<path d="M572.3,459.9L575.1,462.7M572.3,462.7L575.1,459.9" stroke="#0000ff" stroke-width="0.8"/>
<polyline points="435.9,459.8 435.9,464.4 488.6,464.4 488.6,459.8" fill="none" stroke="#ff0000" stroke-width="1.5"/>
<polyline points="571.6,464.7 571.6,469.4 620.4,469.4 620.4,464.7" fill="none" stroke="#0000ff" stroke-width="1.5"/>
<path d="M457.5,473.6L457.5,471M457.5,473.6L459.97,472.8M457.5,473.6L459.03,475.7M457.5,473.6L455.97,475.7M457.5,473.6L455.03,472.8" stroke="#111" stroke-width="1.3" stroke-linecap="round"/>
<path d="M464.1,473.6L464.1,471M464.1,473.6L466.57,472.8M464.1,473.6L465.63,475.7M464.1,473.6L462.57,475.7M464.1,473.6L461.63,472.8" stroke="#111" stroke-width="1.3" stroke-linecap="round"/>
<path d="M470.6,473.6L470.6,471M470.6,473.6L473.07,472.8M470.6,473.6L472.13,475.7M470.6,473.6L469.07,475.7M470.6,473.6L468.13,472.8" stroke="#111" stroke-width="1.3" stroke-linecap="round"/>
<path d="M591.2,477.9L591.2,475.3M591.2,477.9L593.67,477.1M591.2,477.9L592.73,480M591.2,477.9L589.67,480M591.2,477.9L588.73,477.1" stroke="#111" stroke-width="1.3" stroke-linecap="round"/>
<path d="M597.6,477.9L597.6,475.3M597.6,477.9L600.07,477.1M597.6,477.9L599.13,480M597.6,477.9L596.07,480M597.6,477.9L595.13,477.1" stroke="#111" stroke-width="1.3" stroke-linecap="round"/>
<path d="M604,477.9L604,475.3M604,477.9L606.47,477.1M604,477.9L605.53,480M604,477.9L602.47,480M604,477.9L601.53,477.1" stroke="#111" stroke-width="1.3" stroke-linecap="round"/>
</svg>
</body></html>
